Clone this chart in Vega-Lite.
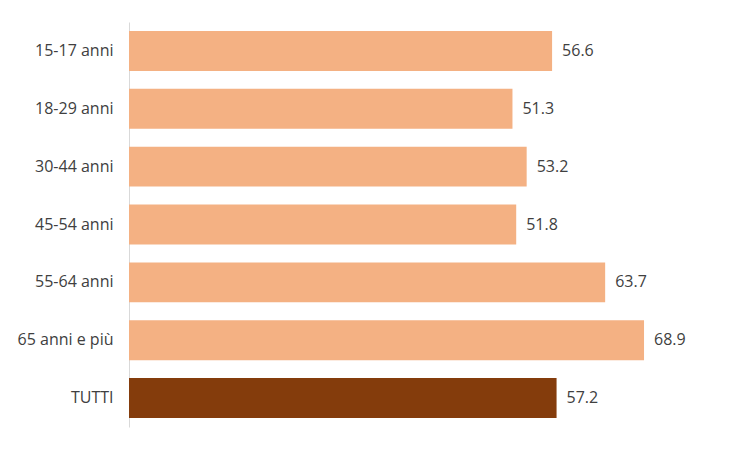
{
  "$schema": "https://vega.github.io/schema/vega-lite/v6.json",
  "autosize": "none",
  "width": 598,
  "height": 405,
  "padding": {"left": 129, "top": 22, "right": 23, "bottom": 23},
  "background": "white",
  "config": {"view": {"stroke": null}, "font": "Open Sans"},
  "data": {"values": [
    {"group": "15-17 anni", "value": 56.6, "type": "a"},
    {"group": "18-29 anni", "value": 51.3, "type": "a"},
    {"group": "30-44 anni", "value": 53.2, "type": "a"},
    {"group": "45-54 anni", "value": 51.8, "type": "a"},
    {"group": "55-64 anni", "value": 63.7, "type": "a"},
    {"group": "65 anni e più", "value": 68.9, "type": "a"},
    {"group": "TUTTI", "value": 57.2, "type": "b"}
  ]},
  "encoding": {
    "y": {"field": "group", "type": "nominal", "sort": null,
      "scale": {"paddingInner": 0.31, "paddingOuter": 0.155},
      "axis": {"title": null, "ticks": false, "domainColor": "#D9D9D9", "labelFont": "Open Sans", "labelFontSize": 16, "labelColor": "#404040", "labelPadding": 16}},
    "x": {"field": "value", "type": "quantitative", "scale": {"domain": [0, 80]}, "axis": null}
  },
  "layer": [
    {"mark": {"type": "bar"},
     "encoding": {"color": {"field": "type", "type": "nominal", "scale": {"domain": ["a", "b"], "range": ["#F4B183", "#843C0C"]}, "legend": null}}},
    {"mark": {"type": "text", "align": "left", "dx": 10, "font": "Open Sans", "fontSize": 16, "color": "#404040"},
     "encoding": {"text": {"field": "value", "type": "quantitative", "format": ".1f"}}}
  ]
}
